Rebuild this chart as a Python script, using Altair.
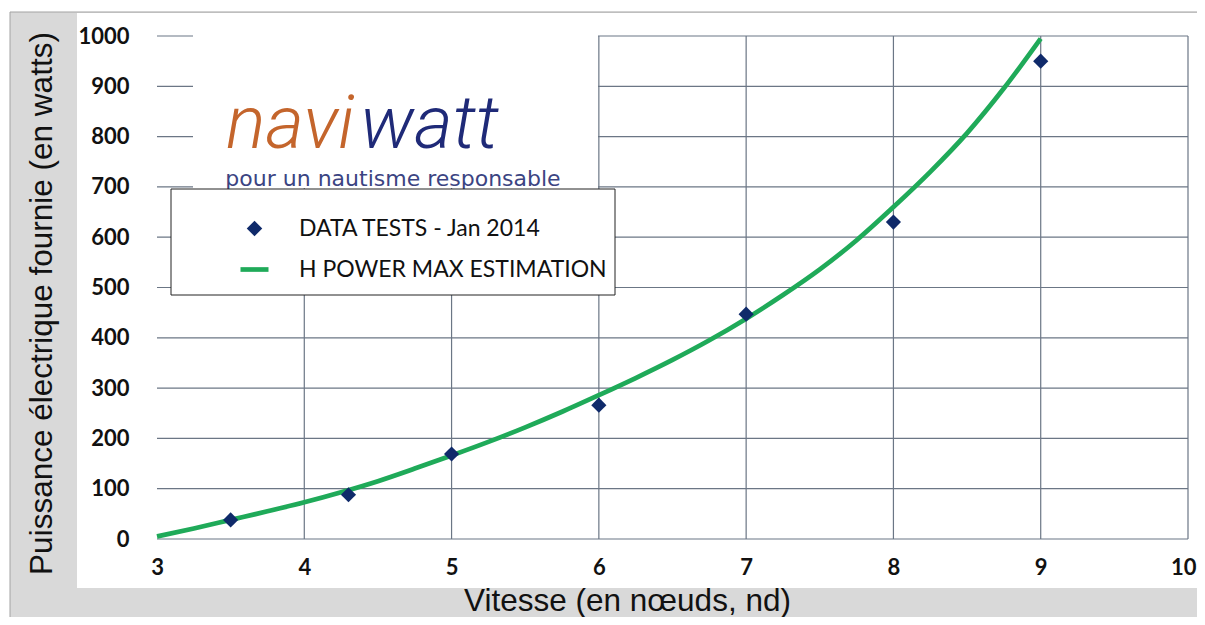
import altair as alt
import pandas as pd

# ---------------- data ----------------
x_ticks = [3, 4, 5, 6, 7, 8, 9, 10]
x_grid = [4, 5, 6, 7, 8, 9, 10]
y_ticks = [0, 100, 200, 300, 400, 500, 600, 700, 800, 900, 1000]

test_speed = [3.5, 4.3, 5, 6, 7, 8, 9]
test_power = [38, 88, 169, 266, 447, 630, 950]

est_speed = [3, 3.25, 3.5, 3.75, 4, 4.25, 4.5, 4.75, 5, 5.25, 5.5, 5.75, 6,
             6.25, 6.5, 6.75, 7, 7.25, 7.5, 7.75, 8, 8.25, 8.5, 8.75, 9]
est_power = [5, 21, 38, 55, 73, 93, 115, 140, 166, 193, 222, 253, 286,
             320, 356, 395, 438, 485, 536, 594, 660, 730, 807, 896, 995]

series_names = ["DATA TESTS -  Jan 2014", "H POWER MAX ESTIMATION"]

NAVY = "#0f2a6a"
GREEN = "#1faa59"
GRID = "#6b7685"

W, H = 1031, 503

pts = pd.DataFrame({"speed": test_speed, "power": test_power, "serie": series_names[0]})
est = pd.DataFrame({"speed": est_speed, "power": est_power, "serie": series_names[1]})
vgrid = pd.DataFrame({"speed": x_grid, "p0": [0] * len(x_grid), "p1": [1000] * len(x_grid)})
hgrid = pd.DataFrame({"power": y_ticks, "s0": [3] * len(y_ticks), "s1": [10] * len(y_ticks)})
one = pd.DataFrame({"k": [0]})

xs = alt.Scale(domain=[3, 10], nice=False, zero=False)
ys = alt.Scale(domain=[0, 1000], nice=False)

last_x = "datum.value === 10"
xaxis = alt.Axis(
    values=x_ticks, format="d", title="Vitesse (en nœuds, nd)", grid=False, domain=False, ticks=False,
    labelFont="Lato", labelFontWeight="bold", labelFontSize=22, labelColor="#111111",
    labelPadding=18, labelFlush=False, zindex=1,
    labelAlign={"condition": {"test": last_x, "value": "right"}, "value": "center"},
    labelOffset={"condition": {"test": last_x, "value": 8}, "value": 0},
    titleFont="Liberation Sans", titleFontSize=31.5, titleFontWeight="normal", titleColor="#111111",
    titleX=470, titleY=71, titleBaseline="alphabetic", titleAlign="center", titleAnchor="start",
)
yaxis = alt.Axis(
    values=y_ticks, format="d", title="Puissance électrique fournie (en watts)", grid=False,
    domain=False, ticks=False,
    labelFont="Lato", labelFontWeight="bold", labelFontSize=22, labelColor="#111111",
    labelPadding=28, labelFlush=False, zindex=1,
    titleFont="Liberation Sans", titleFontSize=31.5, titleFontWeight="normal", titleColor="#111111",
    titleX=-106, titleY=267, titleAngle=270, titleBaseline="alphabetic", titleAlign="center",
    titleAnchor="start",
)

legend_pts = alt.Legend(
    title=None, orient="none", legendX=86, legendY=181, padding=0,
    symbolSize=240, symbolType="diamond", symbolFillColor=NAVY, symbolStrokeWidth=0,
    symbolOpacity=1, labelFont="Lato", labelFontSize=23, labelColor="#111111",
    labelOffset=33, labelLimit=600,
)
legend_line = alt.Legend(
    title=None, orient="none", legendX=81, legendY=217, padding=0,
    symbolSize=784, symbolType="stroke", symbolStrokeWidth=4.7, symbolStrokeColor=GREEN,
    symbolOpacity=1, labelFont="Lato", labelFontSize=23, labelColor="#111111",
    labelOffset=28, labelLimit=600,
)

X = alt.X("speed:Q", scale=xs, axis=xaxis)
Y = alt.Y("power:Q", scale=ys, axis=yaxis)

# background frame (grey band) and white panel
frame = alt.Chart(one).mark_rect(fill="#d9d9d9", stroke="#a3a3a3", strokeWidth=1).encode(
    x=alt.value(-147), x2=alt.value(1070), y=alt.value(-24), y2=alt.value(620))
panel = alt.Chart(one).mark_rect(fill="white").encode(
    x=alt.value(-80), x2=alt.value(1070), y=alt.value(-23), y2=alt.value(H + 49))

vlines = alt.Chart(vgrid).mark_rule(color=GRID, strokeWidth=1.2).encode(
    x=X, y=alt.Y("p0:Q", scale=ys, axis=yaxis), y2="p1:Q")
hlines = alt.Chart(hgrid).mark_rule(color=GRID, strokeWidth=1.2).encode(
    y=Y, x=alt.X("s0:Q", scale=xs, axis=xaxis), x2="s1:Q")

# logo block (white box with text)
logo_bg = alt.Chart(one).mark_rect(fill="white").encode(
    x=alt.value(36), x2=alt.value(441), y=alt.value(-16), y2=alt.value(152))
logo_navi = alt.Chart(one).mark_text(
    text="navi", font="Roboto", fontSize=74, fontStyle="italic", fontWeight=300,
    color="#c4652c", align="left", baseline="alphabetic").encode(x=alt.value(69), y=alt.value(112))
logo_watt = alt.Chart(one).mark_text(
    text="watt", font="Roboto", fontSize=74, fontStyle="italic", fontWeight=300,
    color="#1f2a78", align="left", baseline="alphabetic").encode(x=alt.value(203), y=alt.value(112))
logo_tag = alt.Chart(one).mark_text(
    text="pour un nautisme responsable", font="DejaVu Sans", fontSize=22,
    color="#3b4482", align="center", baseline="alphabetic").encode(x=alt.value(236), y=alt.value(150))

# legend frame
legend_box = alt.Chart(one).mark_rect(fill="white", stroke="#222222", strokeWidth=1).encode(
    x=alt.value(14), x2=alt.value(458), y=alt.value(153), y2=alt.value(259))

line = alt.Chart(est).mark_line(strokeWidth=4.7, interpolate="monotone").encode(
    x=X, y=Y,
    stroke=alt.Stroke("serie:N", scale=alt.Scale(domain=[series_names[1]], range=[GREEN]),
                      legend=legend_line))
points = alt.Chart(pts).mark_point(filled=True, size=230, opacity=1, color=NAVY).encode(
    x=X, y=Y,
    shape=alt.Shape("serie:N", scale=alt.Scale(domain=[series_names[0]], range=["diamond"]),
                    legend=legend_pts))

chart = alt.layer(frame, panel, vlines, hlines, logo_bg, logo_navi, logo_watt, logo_tag,
                  legend_box, line, points).properties(
    width=W, height=H,
    autosize=alt.AutoSizeParams(type="none"),
    padding={"left": 149, "top": 28, "right": 9, "bottom": 78},
    background="white",
).configure_view(stroke=None)

chart.save("out.html", embed_options={"renderer": "svg", "actions": False})
